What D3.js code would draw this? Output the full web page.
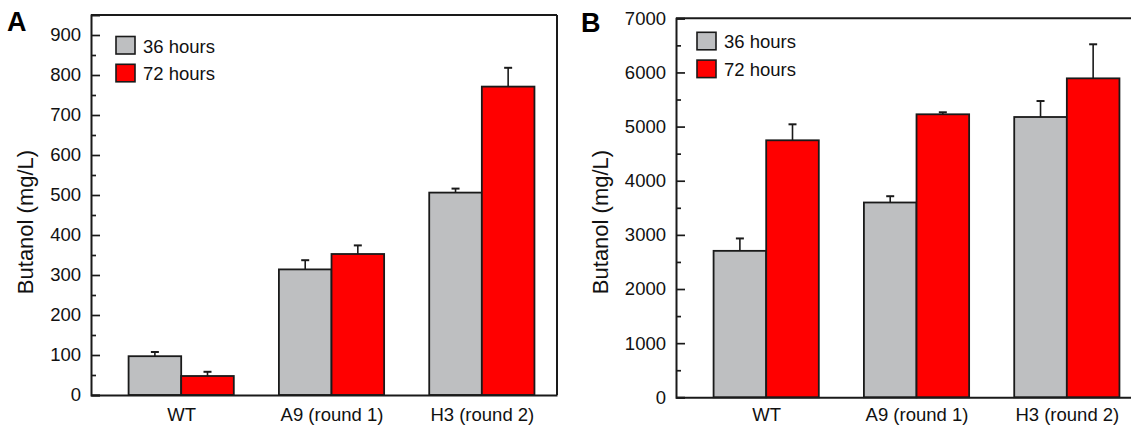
<!DOCTYPE html>
<html>
<head>
<meta charset="utf-8">
<script src="https://cdn.jsdelivr.net/npm/d3@7"></script>
<style>
  html, body { margin: 0; padding: 0; background: #fff; }
  svg { display: block; font-family: "Liberation Sans", Arial, Helvetica, sans-serif; }
</style>
</head>
<body>
<svg id="chart" width="1131" height="425"></svg>
<script>
// ---- data ----
const categories = ["WT", "A9 (round 1)", "H3 (round 2)"];
const seriesNames = ["36 hours", "72 hours"];
const seriesColors = ["#bebfc1", "#ff0000"];

const panelA36 = [97, 314, 506];
const panelA36Err = [10.5, 23, 10];
const panelA72 = [47.5, 352.5, 771];
const panelA72Err = [10.5, 21.5, 47];
const panelATicks = [0, 100, 200, 300, 400, 500, 600, 700, 800, 900];
const panelAMinor = [50, 150, 250, 350, 450, 550, 650, 750, 850];

const panelB36 = [2705, 3598, 5177];
const panelB36Err = [229, 116, 295];
const panelB72 = [4747, 5227, 5891];
const panelB72Err = [295, 37, 629];
const panelBTicks = [0, 1000, 2000, 3000, 4000, 5000, 6000, 7000];
const panelBMinor = [500, 1500, 2500, 3500, 4500, 5500, 6500];

const yTitle = "Butanol (mg/L)";

const svg = d3.select("#chart");
const stroke = "#1a1a1a";

function drawPanel(cfg) {
  const g = svg.append("g");
  const x = d3.scaleLinear().domain([0.4, 3.5]).range([cfg.left, cfg.left + 466]);
  const y = d3.scaleLinear().domain([0, cfg.yMax]).range([cfg.bottom, cfg.top]);
  const bw = 0.35;
  const series = [
    { vals: cfg.s36, errs: cfg.e36, color: seriesColors[0], off: -bw },
    { vals: cfg.s72, errs: cfg.e72, color: seriesColors[1], off: 0 }
  ];

  // bars
  series.forEach(s => {
    g.selectAll(null).data(categories).enter().append("rect")
      .attr("x", (d, i) => x(i + 1 + s.off))
      .attr("width", (d, i) => x(i + 1 + s.off + bw) - x(i + 1 + s.off))
      .attr("y", (d, i) => y(s.vals[i]))
      .attr("height", (d, i) => y(0) - y(s.vals[i]))
      .attr("fill", s.color)
      .attr("stroke", stroke)
      .attr("stroke-width", 1.8);
  });
  // error bars
  series.forEach(s => {
    categories.forEach((d, i) => {
      const cx = x(i + 1 + s.off + bw / 2);
      g.append("line")
        .attr("x1", cx).attr("x2", cx)
        .attr("y1", y(s.vals[i])).attr("y2", y(s.vals[i] + s.errs[i]))
        .attr("stroke", stroke).attr("stroke-width", 1.6);
      g.append("line")
        .attr("x1", cx - 4).attr("x2", cx + 4)
        .attr("y1", y(s.vals[i] + s.errs[i])).attr("y2", y(s.vals[i] + s.errs[i]))
        .attr("stroke", stroke).attr("stroke-width", 2);
    });
  });

  // frame: top and right
  g.append("line")
    .attr("x1", x.range()[0]).attr("x2", x.range()[1])
    .attr("y1", cfg.top).attr("y2", cfg.top)
    .attr("stroke", stroke).attr("stroke-width", 2);
  g.append("line")
    .attr("x1", x.range()[1]).attr("x2", x.range()[1])
    .attr("y1", cfg.top).attr("y2", cfg.bottom)
    .attr("stroke", stroke).attr("stroke-width", 2);

  // y axis (ticks inside)
  const yAxis = g.append("g").attr("transform", `translate(${cfg.left},0)`)
    .call(d3.axisLeft(y).tickValues(cfg.ticks).tickSize(-9).tickPadding(10).tickFormat(d3.format("d")));
  const yMinor = g.append("g").attr("transform", `translate(${cfg.left},0)`)
    .call(d3.axisLeft(y).tickValues(cfg.minor).tickSize(-5).tickFormat(""));
  [yAxis, yMinor].forEach(a => {
    a.select(".domain").attr("stroke", stroke).attr("stroke-width", 2);
    a.selectAll(".tick line").attr("stroke", stroke).attr("stroke-width", 1.7);
  });
  yMinor.select(".domain").remove();
  yAxis.selectAll("text").attr("fill", "#111").style("font-size", "18.5px");

  // x axis
  const xAxis = g.append("g").attr("transform", `translate(0,${cfg.bottom})`)
    .call(d3.axisBottom(x).tickValues([1, 2, 3]).tickSize(0).tickPadding(cfg.xPad)
      .tickFormat(d => categories[d - 1]));
  xAxis.select(".domain").attr("stroke", stroke).attr("stroke-width", 2);
  xAxis.selectAll("text").attr("fill", "#111").style("font-size", "18.5px");

  // y title
  g.append("text")
    .attr("transform", `translate(${cfg.titleX},${cfg.titleY}) rotate(-90)`)
    .attr("text-anchor", "middle")
    .style("font-size", "22px").attr("fill", "#111")
    .text(yTitle);

  // panel letter
  g.append("text")
    .attr("x", cfg.letterX).attr("y", cfg.letterY)
    .style("font-size", "27px").style("font-weight", "bold").attr("fill", "#000")
    .text(cfg.letter);

  // legend
  seriesNames.forEach((name, i) => {
    g.append("rect")
      .attr("x", cfg.legX).attr("y", cfg.legY + i * 27.8)
      .attr("width", 19).attr("height", 17.5)
      .attr("fill", seriesColors[i]).attr("stroke", stroke).attr("stroke-width", 1.6);
    g.append("text")
      .attr("x", cfg.legX + 27).attr("y", cfg.legY + 16 + i * 27.8)
      .style("font-size", "18.5px").attr("fill", "#111")
      .text(name);
  });
}

drawPanel({
  left: 91, top: 15, bottom: 395, yMax: 950,
  s36: panelA36, e36: panelA36Err, s72: panelA72, e72: panelA72Err,
  ticks: panelATicks, minor: panelAMinor, xPad: 12.5,
  titleX: 33, titleY: 222, letter: "A", letterX: 7, letterY: 31,
  legX: 116, legY: 36.5
});

drawPanel({
  left: 676, top: 18.3, bottom: 397.3, yMax: 7000,
  s36: panelB36, e36: panelB36Err, s72: panelB72, e72: panelB72Err,
  ticks: panelBTicks, minor: panelBMinor, xPad: 11,
  titleX: 608, titleY: 222, letter: "B", letterX: 581, letterY: 31.5,
  legX: 697, legY: 32.3
});
</script>
</body>
</html>
